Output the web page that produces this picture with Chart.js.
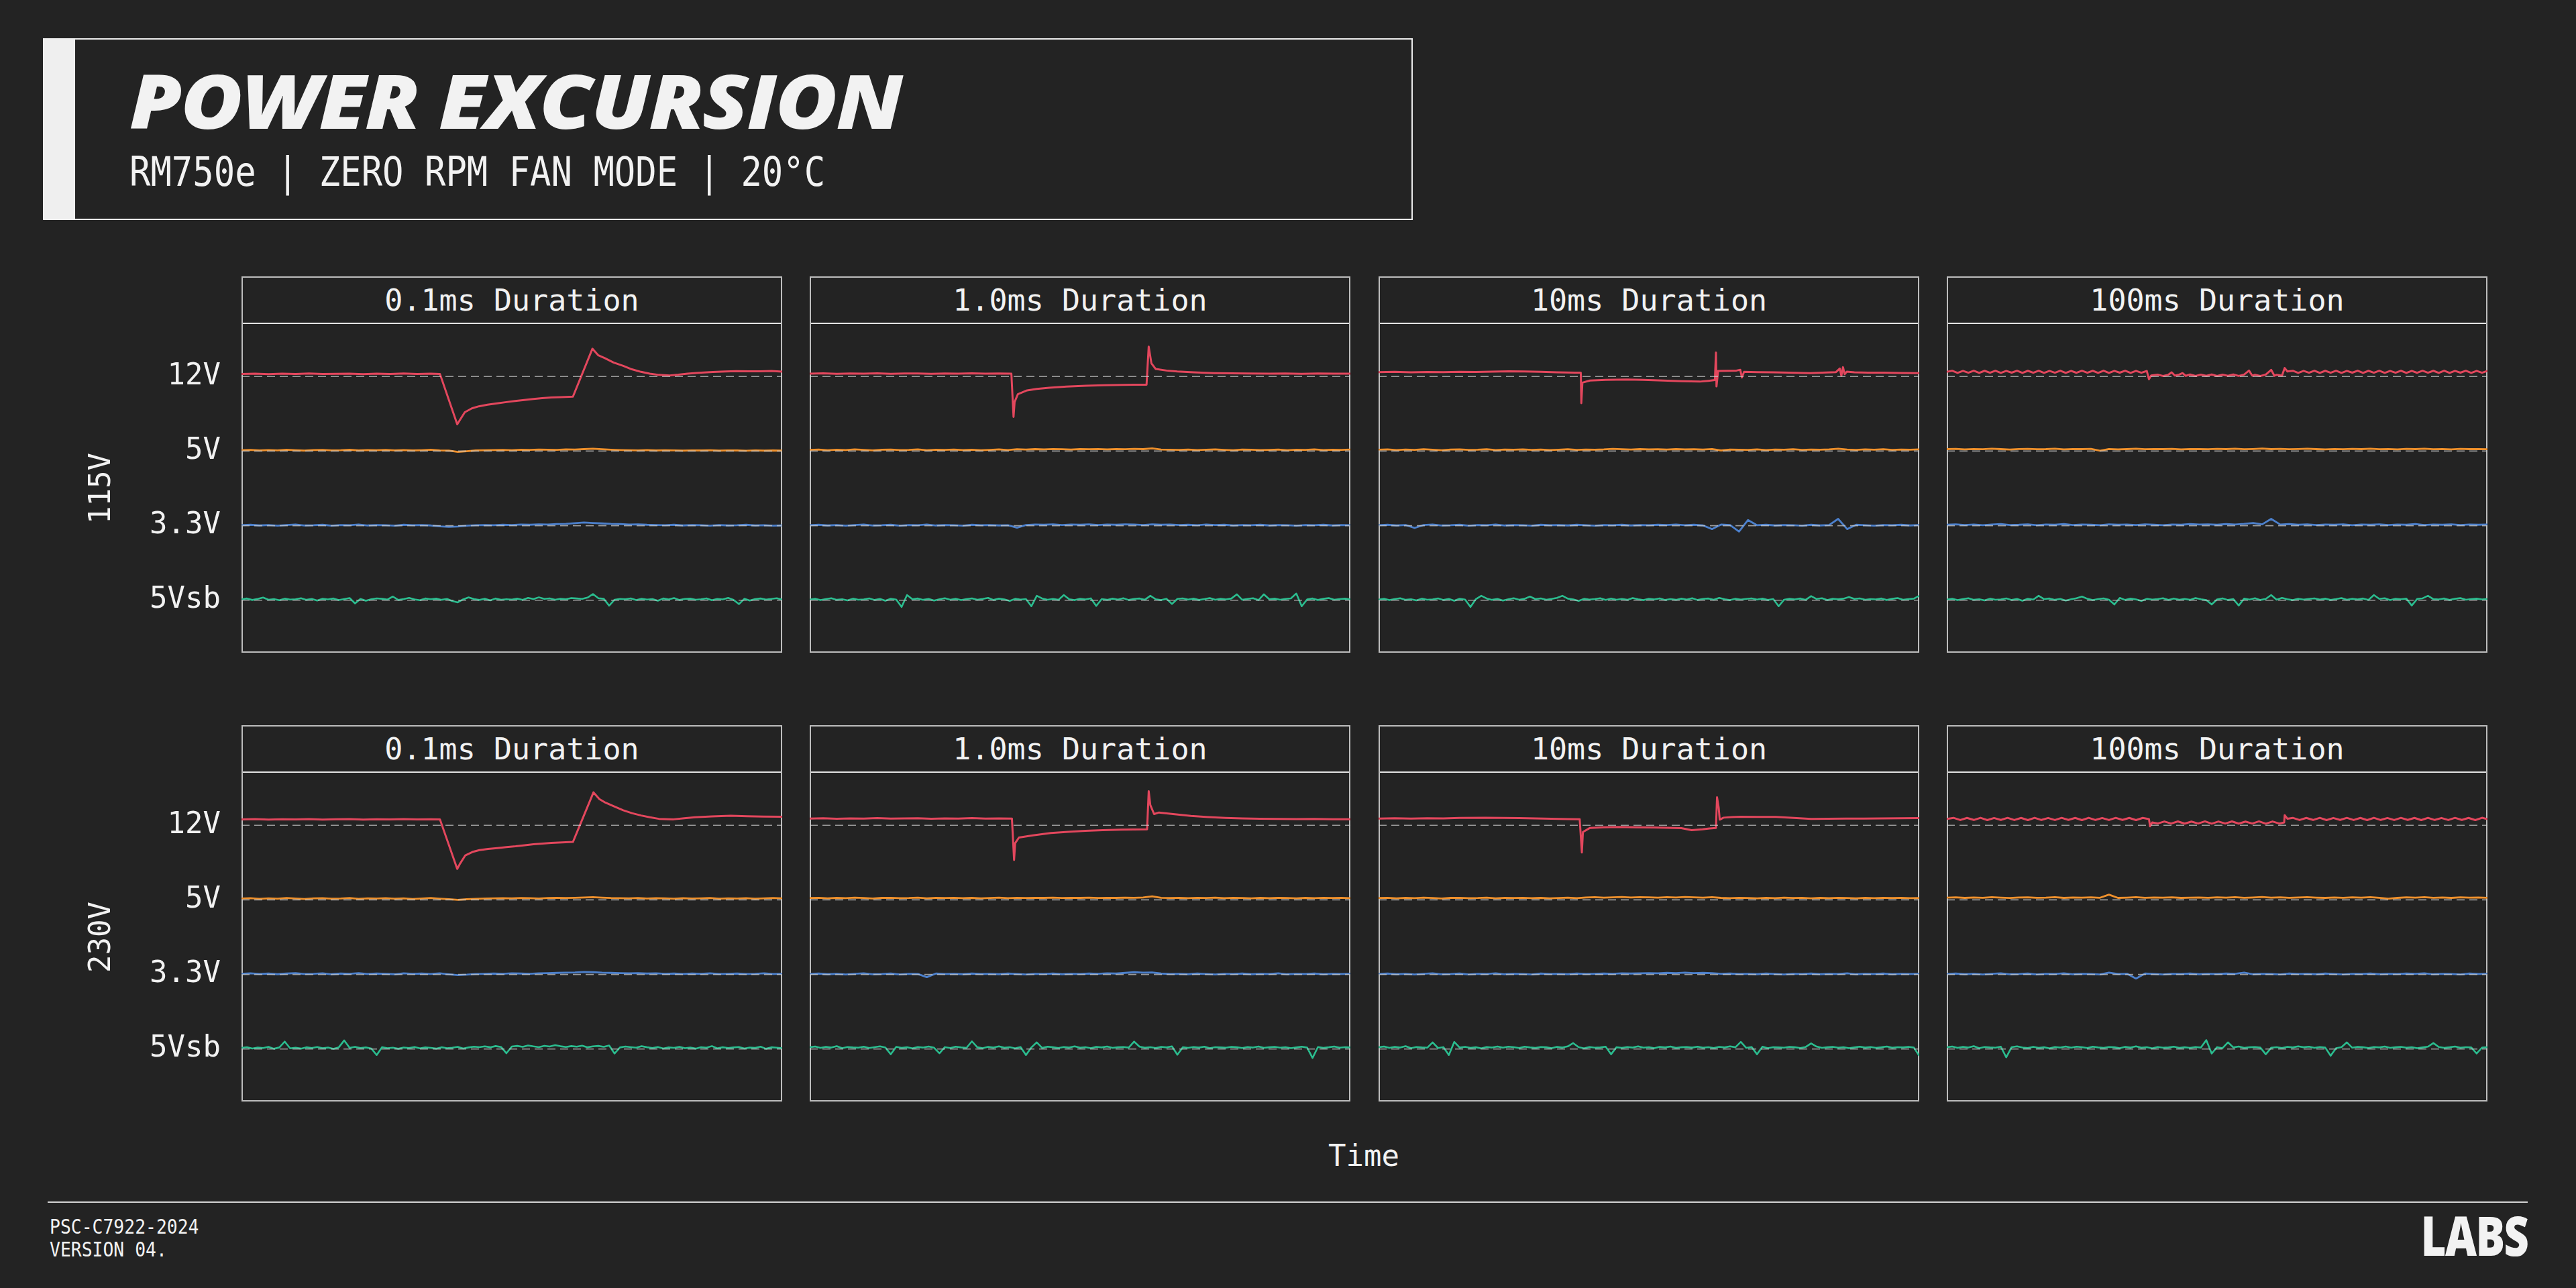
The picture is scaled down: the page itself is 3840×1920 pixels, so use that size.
<!DOCTYPE html>
<html><head><meta charset="utf-8">
<script src="https://cdn.jsdelivr.net/npm/chart.js@4.4.1/dist/chart.umd.min.js"></script>
<style>
html,body{margin:0;padding:0;background:#232323;}
body{width:3840px;height:1920px;position:relative;overflow:hidden;color:#f2f2f2;}
.abs{position:absolute;}
.mono{font-family:"DejaVu Sans Mono",monospace;}
.tbox{left:64px;top:57px;width:2042px;height:271px;border:2px solid #ececec;box-sizing:border-box;}
.tbar{left:64px;top:57px;width:48px;height:271px;background:#efefef;}
.title{left:193px;top:93px;font-family:"Open Sans",sans-serif;font-weight:800;font-style:italic;font-size:112px;line-height:112px;white-space:nowrap;letter-spacing:-2px;transform:scaleX(1.125);transform-origin:0 0;}
.sub{left:193px;top:226px;font-size:60px;line-height:60px;white-space:nowrap;transform:scaleX(0.87);transform-origin:0 0;}
.panel{border:2px solid #bdbdbd;box-sizing:border-box;width:806px;}
.ph{left:0;top:0;width:802px;height:69px;border-bottom:2px solid #e4e4e4;box-sizing:border-box;text-align:center;font-size:45px;line-height:67px;white-space:nowrap;}
.time{left:1933px;width:200px;top:1701px;text-align:center;font-size:44px;line-height:44px;}
.fline{left:71px;top:1791px;width:3697px;height:2px;background:#d4d4d4;}
.foot{left:74px;font-size:30px;line-height:30px;white-space:nowrap;transform:scaleX(0.88);transform-origin:0 0;}
.logo{right:72px;top:1800px;font-family:"Open Sans",sans-serif;font-weight:800;font-size:81px;line-height:81px;transform:scaleX(0.8);transform-origin:100% 0;letter-spacing:-2px;}
canvas{position:absolute;}
</style>
</head>
<body>
<div class="abs tbox"></div>
<div class="abs tbar"></div>
<div class="abs title">POWER EXCURSION</div>
<div class="abs sub mono">RM750e | ZERO RPM FAN MODE | 20°C</div>
<div id="panels"></div>
<div class="abs time mono">Time</div>
<div class="abs fline"></div>
<div class="abs foot mono" style="top:1814px;">PSC-C7922-2024</div>
<div class="abs foot mono" style="top:1848px;">VERSION 04.</div>
<div class="abs logo">LABS</div>
<script>
// ---------- labels ----------
const RAIL_LABELS = ['12V', '5V', '3.3V', '5Vsb'];
const RAIL_NOMINAL = [12, 5, 3.3, 5];
const RAIL_OFFSET = [30, 20, 10, 0];
const DURATIONS = ['0.1ms Duration', '1.0ms Duration', '10ms Duration', '100ms Duration'];
const INPUTS = ['115V', '230V'];
const X_TITLE = 'Time';

// ---------- 12V traces: [time % of window, deviation from nominal in mV] ----------
const v12_115_a = [[0,40],[2.5,46],[5,38],[7.5,44],[10,40],[12.5,47],[15,39],[17.5,43],[20,45],[22.5,38],[25,44],[27.5,41],[30,47],[32.5,40],[35,44],[36.7,41],[39.9,-770],[40.4,-700],[41.3,-575],[42.6,-513],[43.9,-480],[45.5,-455],[47.3,-432],[49,-412],[50.6,-395],[52.3,-378],[54,-362],[55.6,-350],[57.3,-338],[59.2,-332],[61.3,-325],[64.9,446],[66,340],[67.2,294],[68.8,225],[70.6,170],[72.2,115],[73.9,74],[75.5,45],[77.2,25],[79.2,16],[80.8,28],[82.5,45],[84.5,58],[87.2,72],[89.5,80],[91.5,86],[93.8,84],[96,82],[98,88],[100,78]];
const v12_115_b = [[0,45],[2.5,50],[5,42],[7.5,48],[10,44],[12.5,51],[15,43],[17.5,47],[20,49],[22.5,42],[25,48],[27.5,45],[30,51],[32.5,44],[35,48],[37.3,45],[37.7,-650],[37.9,-410],[38.5,-285],[40.2,-224],[42,-200],[44.3,-181],[47.5,-163],[51.1,-149],[54.5,-141],[57.9,-136],[60,-134],[62.3,-132],[62.7,480],[63.2,211],[64,120],[66,95],[68,79],[71,66],[74.8,54],[78,50],[81,47],[85,45],[88,49],[91,43],[94,47],[97,44],[100,45]];
const v12_115_c = [[0,70],[3,74],[6,67],[9,72],[12,69],[15,75],[18,71],[21,78],[24.1,83],[27,79],[30,74],[33,68],[36.3,62],[37.4,60],[37.5,-430],[37.7,-99],[39.1,-66],[42,-55],[45.9,-50],[49,-56],[52.6,-66],[56,-75],[59.4,-83],[61,-70],[62.2,-58],[62.4,384],[62.5,-161],[62.8,87],[64.5,92],[66.2,95],[66.9,107],[67.2,-17],[67.6,74],[70,70],[73,66],[76,60],[79.8,54],[82,62],[84.6,70],[85.3,128],[85.6,12],[85.9,149],[86.2,37],[86.6,78],[88,66],[90.5,60],[93.4,62],[96.5,56],[100,54]];
const v12_115_d = [[0,74],[1,92],[2,58],[3,90],[4,60],[5,93],[6,57],[7,91],[8,59],[9,92],[10,58],[11,90],[12,61],[13,93],[14,57],[15,91],[16,60],[17,92],[18,58],[19,89],[20,60],[21,93],[22,57],[23,90],[24,59],[25,92],[26,60],[27,91],[28,58],[29,93],[30,57],[31,90],[32,61],[33,92],[34,58],[35,90],[36,60],[37,88],[37.4,-45],[37.8,15],[39,30],[40,8],[41,28],[41.6,66],[42.2,12],[43,30],[43.6,54],[44.2,10],[45,32],[46,8],[47,30],[48,10],[49,31],[50,7],[51,29],[52,11],[53,32],[54,9],[55,30],[55.9,95],[56.5,12],[57,28],[58,8],[59,30],[60,107],[60.6,10],[61,27],[62,12],[62.5,136],[63,80],[64,92],[65,58],[66,90],[67,60],[68,93],[69,57],[70,91],[71,59],[72,92],[73,58],[74,90],[75,61],[76,93],[77,57],[78,91],[79,60],[80,92],[81,58],[82,89],[83,60],[84,93],[85,57],[86,90],[87,59],[88,92],[89,60],[90,91],[91,58],[92,93],[93,57],[94,90],[95,61],[96,92],[97,58],[98,90],[99,60],[100,88]];
const v12_230_a = [[0,94],[2.5,99],[5,91],[7.5,97],[10,93],[12.5,100],[15,92],[17.5,96],[20,98],[22.5,91],[25,97],[27.5,94],[30,100],[32.5,93],[35,97],[36.7,95],[39.9,-702],[40.4,-620],[41.4,-484],[42.7,-430],[44,-400],[45.6,-382],[47.3,-367],[49,-352],[50.7,-339],[52.4,-322],[54,-306],[55.7,-296],[57.3,-285],[59.3,-276],[61.3,-269],[65.1,529],[66.2,420],[67.3,364],[69,300],[70.6,240],[72.2,195],[73.9,157],[75.5,128],[77.2,103],[79.9,95],[81.9,112],[83.9,128],[87,142],[90.5,153],[93.5,146],[96.5,140],[100,136]];
const v12_230_b = [[0,108],[2.5,113],[5,105],[7.5,111],[10,107],[12.5,114],[15,106],[17.5,110],[20,112],[22.5,105],[25,111],[27.5,108],[30,114],[32.5,107],[35,111],[37.4,108],[37.8,-558],[38,-288],[38.7,-198],[41.3,-162],[44.6,-126],[47.8,-106],[51,-90],[54.2,-80],[57.5,-72],[60,-68],[62.4,-65],[62.7,547],[63,324],[63.7,180],[64.6,205],[67.5,178],[70.5,151],[73.7,132],[76.9,119],[80,110],[83.3,104],[86.7,101],[90,99],[93.3,102],[96.7,96],[100,97]];
const v12_230_c = [[0,108],[3,112],[6,106],[9,113],[12,110],[15,117],[19.7,122],[23,118],[26,114],[29,110],[32,104],[35,100],[37.2,97],[37.6,-439],[37.8,-108],[39.1,-43],[41.5,-33],[44.3,-29],[47.5,-32],[50.8,-36],[53.5,-41],[56,-47],[57.9,-79],[59.9,-65],[61.2,-52],[62.4,-43],[62.6,450],[62.9,288],[63.1,90],[63.8,122],[65.4,132],[67,137],[70,135],[73.5,133],[76.8,118],[80,101],[83,104],[86.4,106],[89.7,108],[93,111],[96.5,113],[100,115]];
const v12_230_d = [[0,101],[1.25,119],[2.5,84],[3.75,118],[5,85],[6.25,120],[7.5,83],[8.75,117],[10,86],[11.25,119],[12.5,84],[13.75,118],[15,83],[16.25,120],[17.5,85],[18.75,117],[20,84],[21.25,119],[22.5,86],[23.75,118],[25,83],[26.25,120],[27.5,85],[28.75,117],[30,84],[31.25,119],[32.5,86],[33.75,118],[35,83],[36.25,118],[37.4,100],[37.6,-18],[38,45],[39,28],[40.25,60],[41.5,27],[42.75,61],[44,26],[45.25,59],[46.5,28],[47.75,62],[49,25],[50.25,60],[51.5,27],[52.75,61],[54,26],[55.25,59],[56.5,28],[57.75,62],[59,25],[60.25,60],[61.5,27],[62.4,45],[62.5,162],[63,105],[64,119],[65.25,84],[66.5,118],[67.75,85],[69,120],[70.25,83],[71.5,117],[72.75,86],[74,119],[75.25,84],[76.5,118],[77.75,83],[79,120],[80.25,85],[81.5,117],[82.75,84],[84,119],[85.25,86],[86.5,118],[87.75,83],[89,120],[90.25,85],[91.5,117],[92.75,84],[94,119],[95.25,86],[96.5,118],[97.75,83],[99,120],[100,100]];

// ---------- 5V, 3.3V, 5Vsb traces: evenly spaced samples, deviation from nominal in mV ----------
const v5_115_a = [6,8,4,7,5,9,6,3,7,8,5,6,9,4,7,6,8,5,7,4,6,9,5,3,-6,-1,4,6,7,8,6,9,8,10,9,8,11,10,13,16,12,9,7,6,5,7,4,6,5,3,5,4,6,3,5,4,2,5,3,4,3];
const v33_115_a = [2,4,1,3,0,3,5,1,2,4,0,3,2,5,1,3,2,0,4,2,3,1,-3,-5,-4,0,2,3,2,4,3,5,4,6,5,7,8,11,14,12,10,8,7,5,6,4,3,2,4,1,3,2,0,3,1,2,4,1,2,0,1];
const s5_115_a = [6,12,2,9,18,4,8,0,11,5,7,14,3,9,-2,10,6,12,1,8,15,-21,9,-3,7,13,10,5,25,2,8,16,6,0,12,7,11,3,9,-5,-14,6,19,8,2,10,-1,12,4,7,5,11,3,16,8,20,9,13,4,10,7,15,12,9,18,42,14,10,-36,4,9,7,13,1,10,5,8,-3,12,6,15,2,9,11,4,7,13,0,9,6,16,3,-26,10,-2,8,12,5,9,14,4];
const v5_115_b = [8,10,6,9,7,11,8,5,9,10,7,8,11,6,9,8,10,7,9,6,8,11,7,12,10,13,11,14,12,10,13,12,14,11,13,12,15,13,18,10,9,8,10,7,9,11,8,6,10,9,7,8,10,6,9,8,11,7,9,8,10];
const v33_115_b = [2,4,1,3,0,3,5,1,2,4,0,3,2,5,1,3,2,0,4,2,3,1,2,-9,3,5,4,6,3,5,4,6,3,5,4,6,5,3,6,4,5,3,4,2,5,3,4,1,3,2,4,1,3,2,0,3,2,4,1,3,2];
const s5_115_b = [5,10,1,8,14,3,7,-1,11,4,6,13,2,9,-3,10,5,-45,35,7,12,3,9,-2,7,14,4,10,1,8,13,4,9,16,2,11,6,-4,10,5,8,-40,30,12,4,9,3,35,7,1,10,6,13,-38,8,3,11,5,14,2,9,12,4,30,7,1,10,-25,9,13,5,11,2,8,15,4,10,6,12,40,3,9,14,1,40,7,11,4,9,13,45,-40,6,12,2,10,15,4,8,11,6];
const v5_115_c = [9,11,7,10,8,12,9,6,10,11,8,9,12,7,10,9,11,8,10,7,9,12,8,10,9,11,15,12,10,13,11,12,10,13,11,12,10,14,4,10,9,8,11,7,10,9,12,8,10,9,11,16,10,8,11,9,12,8,10,9,11];
const v33_115_c = [2,4,1,3,-10,3,5,1,2,4,0,3,2,5,1,3,2,0,4,2,3,1,4,2,0,3,2,4,1,3,2,4,3,5,2,4,1,-15,5,3,-26,25,2,4,1,3,2,0,4,1,3,30,-15,4,2,0,3,2,4,1,3];
const s5_115_c = [5,10,1,8,14,3,7,-1,11,4,6,13,2,9,-3,10,5,-45,8,30,12,3,9,-2,7,14,4,10,25,8,13,4,9,16,30,11,6,-4,10,5,8,14,3,12,4,9,3,15,7,1,10,6,13,2,8,3,11,5,14,2,9,12,4,16,7,1,10,5,9,13,5,11,2,8,-40,4,10,6,12,3,28,9,14,1,10,7,11,22,9,13,4,8,6,12,2,10,15,4,8,11,30];
const v5_115_d = [13,15,11,14,12,16,13,10,14,15,12,13,16,11,14,13,15,2,14,11,13,16,12,14,13,15,11,13,14,12,15,13,16,12,14,17,13,15,12,14,16,13,11,14,12,15,13,16,12,14,11,15,13,16,12,14,11,15,13,14,12];
const v33_115_d = [4,6,3,5,2,5,7,3,4,6,2,5,4,7,3,5,4,2,6,4,5,3,6,4,2,5,4,7,5,6,4,7,5,8,12,6,30,5,7,4,6,3,5,4,6,2,5,4,6,3,5,4,7,3,5,4,6,3,5,4,5];
const s5_115_d = [5,10,1,8,14,3,7,-1,11,4,6,13,2,9,-3,10,5,30,8,12,3,9,-2,7,14,25,10,1,8,13,4,-28,16,2,11,6,-4,10,5,8,14,3,12,4,9,3,15,7,1,-28,6,13,2,8,-35,11,5,14,2,9,35,4,16,7,1,10,5,9,13,5,11,2,8,15,4,10,6,12,3,35,9,14,1,10,7,11,-35,9,13,30,8,6,12,2,10,15,4,8,11,6,9];
const v5_230_a = [9,11,7,10,8,12,9,6,10,11,8,9,12,7,10,9,11,8,10,6,9,12,8,5,0,4,7,9,10,11,10,12,11,9,12,13,12,14,16,18,15,12,11,10,12,9,11,10,8,11,9,10,12,8,10,9,11,8,10,12,10];
const v33_230_a = [3,5,2,4,1,4,6,2,3,5,1,4,3,6,2,4,3,1,5,3,4,2,5,1,-3,-1,2,3,4,3,5,4,3,5,6,7,8,9,11,10,8,7,6,5,6,4,5,3,4,2,4,3,5,2,3,4,2,3,5,2,3];
const s5_230_a = [8,13,4,10,7,15,2,11,50,5,9,3,12,7,14,6,10,1,12,58,8,15,7,11,4,-40,13,6,9,2,10,7,14,5,11,8,3,12,6,9,15,4,11,16,13,18,12,20,14,-28,17,21,15,24,18,13,22,17,26,19,14,20,16,23,12,18,21,15,24,-30,11,17,13,9,19,12,7,14,4,11,8,15,6,10,3,13,9,20,5,12,7,11,14,4,10,8,16,2,12,9,6];
const v5_230_b = [12,14,10,13,11,15,12,9,13,14,11,12,15,10,13,12,14,11,13,10,12,15,11,13,12,14,13,15,12,14,13,15,12,14,13,15,14,16,24,14,12,13,11,14,12,15,11,13,12,10,13,11,14,12,10,13,11,14,12,13,11];
const v33_230_b = [2,4,1,3,0,3,5,1,2,4,0,3,2,-12,4,2,3,1,4,2,3,1,4,2,0,3,2,4,1,3,2,4,3,5,4,7,10,8,9,4,2,3,1,4,2,0,3,2,4,1,3,2,5,1,3,2,4,1,3,2,3];
const s5_230_b = [12,17,8,15,10,19,6,14,11,9,16,7,13,18,10,-35,15,8,12,5,14,10,17,9,-28,13,7,16,11,8,52,12,6,15,10,18,9,13,5,14,-40,11,45,8,16,12,7,14,10,18,9,13,6,15,11,17,8,12,14,10,50,16,9,13,7,15,11,18,-38,12,8,14,10,16,6,13,11,9,15,12,7,14,10,17,8,12,15,9,13,6,11,16,10,-60,14,8,12,17,9,13,11];
const v5_230_c = [12,14,10,13,11,15,12,9,13,14,11,12,15,10,13,12,14,11,13,10,12,15,11,16,18,15,17,19,16,18,17,15,18,16,19,17,15,18,13,11,14,12,10,13,11,15,12,14,10,13,11,14,12,10,13,11,14,12,13,11,12];
const v33_230_c = [2,4,1,3,0,3,5,1,2,4,0,3,2,5,1,3,2,0,4,2,3,1,4,2,3,4,3,5,4,5,6,5,7,6,8,6,7,6,3,4,2,3,1,4,2,0,3,2,4,1,3,2,5,1,3,2,4,1,3,2,3];
const s5_230_c = [12,17,8,15,10,19,6,14,11,9,45,7,13,-40,48,10,15,8,12,5,14,10,17,9,16,13,7,16,11,8,14,12,6,15,10,18,40,13,5,14,9,11,16,-35,12,8,14,10,18,9,13,6,15,11,17,8,12,14,10,16,9,13,7,15,11,18,12,48,8,14,-35,16,6,13,11,9,15,12,7,14,38,17,8,12,15,9,13,6,11,16,10,14,8,12,17,9,13,11,15,10,-45];
const v5_230_d = [15,17,13,16,14,18,15,12,16,17,14,15,18,13,16,15,17,14,35,13,15,18,14,16,15,17,13,15,16,14,17,15,18,14,16,19,15,17,14,16,18,15,13,16,14,17,15,18,14,8,13,17,15,18,14,16,13,17,15,16,14];
const v33_230_d = [2,4,1,3,0,3,5,1,2,4,0,3,2,5,1,3,2,0,8,2,3,-18,4,2,0,3,2,4,1,3,2,4,3,8,1,3,2,0,4,2,3,1,4,2,0,3,2,4,1,3,2,4,3,5,1,3,2,0,4,2,3];
const s5_230_d = [12,17,8,15,10,19,6,14,11,9,16,-55,13,18,10,7,15,8,12,5,14,10,17,9,16,13,7,16,11,8,14,12,6,15,10,18,9,13,5,14,9,11,16,8,12,8,14,10,60,-30,13,6,45,11,17,8,12,14,10,-35,9,13,7,15,11,18,12,16,8,14,10,-45,6,13,45,9,15,12,7,14,11,17,8,12,15,9,13,6,11,16,40,14,8,12,17,9,13,11,-30,10,12];

// ---------- assemble ----------
const ROWS = [
  { v12: [v12_115_a, v12_115_b, v12_115_c, v12_115_d], v5: [v5_115_a, v5_115_b, v5_115_c, v5_115_d], v33: [v33_115_a, v33_115_b, v33_115_c, v33_115_d], s5: [s5_115_a, s5_115_b, s5_115_c, s5_115_d] },
  { v12: [v12_230_a, v12_230_b, v12_230_c, v12_230_d], v5: [v5_230_a, v5_230_b, v5_230_c, v5_230_d], v33: [v33_230_a, v33_230_b, v33_230_c, v33_230_d], s5: [s5_230_a, s5_230_b, s5_230_c, s5_230_d] }
];
const COLORS = ['#e3475d', '#f0912c', '#4c80cc', '#2bbd8f'];
const WIDTHS = [3, 2.8, 2.8, 2.6];
const PANEL_LEFT = [360, 1207, 2055, 2902];
const PANEL_TOP = [412, 1081];
const HEADER_H = 71, PLOT_H = 490, PANEL_W = 806, AXIS_W = 260;
const Y_MIN = -7.03, Y_MAX = 37.03;
const FONT = '"DejaVu Sans Mono", monospace';
const TXT = '#f2f2f2';

document.querySelector('.time').textContent = X_TITLE;

function toY(mV, rail) { return RAIL_OFFSET[rail] + mV / (RAIL_NOMINAL[rail] * 10); }
function fromPairs(arr, rail) { return arr.map(p => ({ x: p[0], y: toY(p[1], rail) })); }
function fromUniform(arr, rail) { const n = arr.length; return arr.map((v, i) => ({ x: i * 100 / (n - 1), y: toY(v, rail) })); }

const host = document.getElementById('panels');
ROWS.forEach((row, r) => {
  for (let c = 0; c < 4; c++) {
    const panel = document.createElement('div');
    panel.className = 'abs panel';
    panel.style.left = PANEL_LEFT[c] + 'px';
    panel.style.top = PANEL_TOP[r] + 'px';
    panel.style.height = (HEADER_H + PLOT_H) + 'px';
    const ph = document.createElement('div');
    ph.className = 'abs ph mono';
    ph.textContent = DURATIONS[c];
    panel.appendChild(ph);
    host.appendChild(panel);

    const first = c === 0;
    const cv = document.createElement('canvas');
    const left = first ? PANEL_LEFT[c] - AXIS_W : PANEL_LEFT[c];
    const w = first ? PANEL_W + AXIS_W : PANEL_W;
    cv.width = w; cv.height = PLOT_H;
    cv.style.left = left + 'px';
    cv.style.top = (PANEL_TOP[r] + HEADER_H) + 'px';
    cv.style.width = w + 'px'; cv.style.height = PLOT_H + 'px';
    document.body.appendChild(cv);

    const ds = [];
    RAIL_OFFSET.forEach(off => ds.push({
      data: [{ x: 0, y: off }, { x: 100, y: off }],
      borderColor: 'rgba(205,205,205,0.7)', borderWidth: 1.6, borderDash: [12, 7], order: 0
    }));
    const traces = [fromPairs(row.v12[c], 0), fromUniform(row.v5[c], 1), fromUniform(row.v33[c], 2), fromUniform(row.s5[c], 3)];
    traces.forEach((d, k) => ds.push({ data: d, borderColor: COLORS[k], borderWidth: WIDTHS[k], order: 1 }));

    const yScale = {
      type: 'linear', min: Y_MIN, max: Y_MAX, display: first,
      grid: { display: false, drawTicks: false }, border: { display: false },
      afterBuildTicks: s => { s.ticks = RAIL_OFFSET.map(v => ({ value: v })); },
      afterFit: s => { s.width = first ? AXIS_W : 0; s.paddingTop = 0; s.paddingBottom = 0; },
      ticks: {
        autoSkip: false, padding: 31, color: TXT, font: { family: FONT, size: 44 },
        callback: v => RAIL_LABELS[RAIL_OFFSET.indexOf(v)]
      },
      title: { display: first, text: INPUTS[r], color: TXT, font: { family: FONT, size: 44 }, padding: { top: 26, bottom: 0 } }
    };

    new Chart(cv, {
      type: 'line',
      data: { datasets: ds },
      options: {
        responsive: false, animation: false, devicePixelRatio: 1, parsing: false, events: [],
        elements: { point: { radius: 0 }, line: { tension: 0, borderJoinStyle: 'round' } },
        layout: { padding: 0 },
        plugins: { legend: { display: false }, tooltip: { enabled: false }, title: { display: false } },
        scales: { x: { type: 'linear', min: 0, max: 100, display: false }, y: yScale }
      }
    });
  }
});
</script>
</body></html>
